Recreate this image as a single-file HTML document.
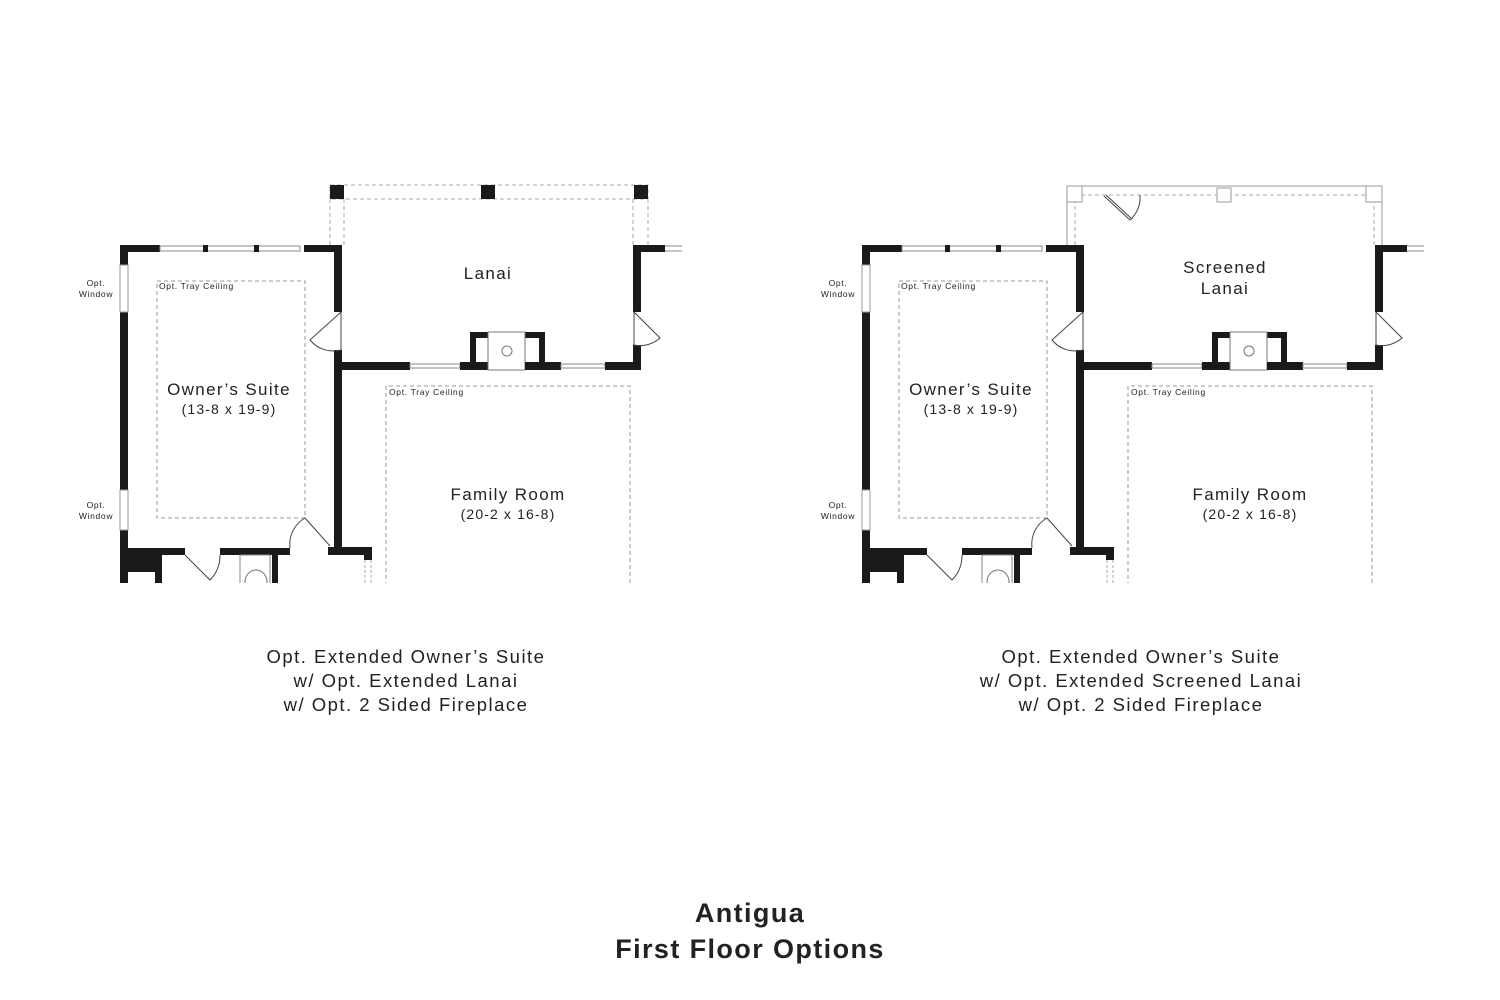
<!DOCTYPE html>
<html><head><meta charset="utf-8"><style>
html,body{margin:0;padding:0;background:#fff;}
svg{display:block;}
text{font-family:"Liberation Sans",sans-serif;fill:#222;letter-spacing:0.08em;}
</style></head><body>
<svg width="1500" height="1000" viewBox="0 0 1500 1000" xmlns="http://www.w3.org/2000/svg">
<defs>
<clipPath id="cp"><rect x="0" y="0" width="1500" height="583"/></clipPath>
<g id="plan">
  <rect x="157" y="281" width="148" height="237" fill="none" stroke="#999" stroke-width="1" stroke-dasharray="4,3"/>
  <path d="M386 600 L386 386 L630 386 L630 600" fill="none" stroke="#999" stroke-width="1" stroke-dasharray="4,3"/>
  <rect x="120" y="245" width="8" height="20" fill="#1a1a1a"/>
  <rect x="120" y="312" width="8" height="178" fill="#1a1a1a"/>
  <rect x="120" y="530" width="8" height="60" fill="#1a1a1a"/>
  <rect x="120" y="265" width="8" height="47" fill="#fff" stroke="#999" stroke-width="1"/>
  <rect x="120" y="490" width="8" height="40" fill="#fff" stroke="#999" stroke-width="1"/>
  <rect x="120" y="245" width="40" height="7" fill="#1a1a1a"/>
  <rect x="160" y="246" width="140" height="5" fill="#fff" stroke="#888" stroke-width="1"/>
  <rect x="203" y="245" width="5" height="7" fill="#1a1a1a"/>
  <rect x="254" y="245" width="5" height="7" fill="#1a1a1a"/>
  <rect x="304" y="245" width="38" height="7" fill="#1a1a1a"/>
  <rect x="334" y="245" width="8" height="67" fill="#1a1a1a"/>
  <rect x="334" y="350" width="8" height="200" fill="#1a1a1a"/>
  <path d="M341 312 L341 350 M341 312 L310 340 A30 30 0 0 0 341 350" fill="none" stroke="#444" stroke-width="1"/>
  <rect x="334" y="362" width="76" height="8" fill="#1a1a1a"/>
  <rect x="410" y="364" width="50" height="4" fill="#fff" stroke="#888"/>
  <rect x="460" y="362" width="40" height="8" fill="#1a1a1a"/>
  <rect x="470" y="332" width="75" height="6" fill="#1a1a1a"/>
  <rect x="470" y="332" width="6" height="38" fill="#1a1a1a"/>
  <rect x="539" y="332" width="6" height="38" fill="#1a1a1a"/>
  <rect x="488" y="332" width="37" height="38" fill="#fff" stroke="#777" stroke-width="1"/>
  <circle cx="507" cy="351" r="5" fill="none" stroke="#777"/>
  <rect x="525" y="362" width="36" height="8" fill="#1a1a1a"/>
  <rect x="561" y="364" width="44" height="4" fill="#fff" stroke="#888"/>
  <rect x="605" y="362" width="36" height="8" fill="#1a1a1a"/>
  <rect x="633" y="345" width="8" height="25" fill="#1a1a1a"/>
  <rect x="633" y="245" width="8" height="67" fill="#1a1a1a"/>
  <rect x="633" y="245" width="32" height="7" fill="#1a1a1a"/>
  <path d="M665 246 L682 246 M665 251 L682 251" stroke="#888"/>
  <path d="M634 312 L634 345 M634 312 L660 338 A30 30 0 0 1 634 345" fill="none" stroke="#444" stroke-width="1"/>
  <rect x="120" y="548" width="42" height="24" fill="#1a1a1a"/>
  <rect x="120" y="548" width="65" height="7" fill="#1a1a1a"/>
  <rect x="155" y="555" width="7" height="35" fill="#1a1a1a"/>
  <rect x="220" y="548" width="70" height="7" fill="#1a1a1a"/>
  <rect x="272" y="555" width="6" height="35" fill="#1a1a1a"/>
  <path d="M185 555 L210 580 A35 35 0 0 0 220 555" fill="none" stroke="#444"/>
  <rect x="240" y="555" width="30" height="40" fill="none" stroke="#888"/>
  <ellipse cx="256" cy="582" rx="11" ry="12" fill="none" stroke="#777"/>
  <rect x="328" y="547" width="44" height="8" fill="#1a1a1a"/>
  <rect x="364" y="547" width="8" height="13" fill="#1a1a1a"/>
  <path d="M365 560 L365 590 M371 560 L371 590" stroke="#aaa" stroke-dasharray="3,2"/>
  <path d="M305 518 L330 546 M305 518 A30 30 0 0 0 290 548" fill="none" stroke="#444"/>
  <text x="96" y="286" font-size="8.5" text-anchor="middle">Opt.</text>
  <text x="96" y="297" font-size="8.5" text-anchor="middle">Window</text>
  <text x="96" y="508" font-size="8.5" text-anchor="middle">Opt.</text>
  <text x="96" y="519" font-size="8.5" text-anchor="middle">Window</text>
  <text x="159" y="289" font-size="8.5">Opt. Tray Ceiling</text>
  <text x="389" y="395" font-size="8.5">Opt. Tray Ceiling</text>
  <text x="229" y="395" font-size="17" text-anchor="middle">Owner’s Suite</text>
  <text x="229" y="414" font-size="14" text-anchor="middle">(13-8 x 19-9)</text>
  <text x="508" y="500" font-size="17" text-anchor="middle">Family Room</text>
  <text x="508" y="519" font-size="14" text-anchor="middle">(20-2 x 16-8)</text>
</g>
</defs>
<g clip-path="url(#cp)">
<use href="#plan"/>
<g transform="translate(742,0)"><use href="#plan"/></g>
</g>
<rect x="330" y="185" width="318" height="14" fill="none" stroke="#aaa" stroke-dasharray="4,3"/>
<path d="M330 199 L330 245 M344 199 L344 245 M633 199 L633 245 M648 199 L648 245" stroke="#aaa" stroke-dasharray="4,3"/>
<rect x="330" y="185" width="14" height="14" fill="#1a1a1a"/>
<rect x="481" y="185" width="14" height="14" fill="#1a1a1a"/>
<rect x="634" y="185" width="14" height="14" fill="#1a1a1a"/>
<text x="488" y="279" font-size="17" text-anchor="middle">Lanai</text>
<path d="M1067 186 L1382 186 L1382 245 M1067 186 L1067 245" fill="none" stroke="#999"/>
<path d="M1067 195 L1382 195 M1075 199 L1075 245 M1374 199 L1374 245" fill="none" stroke="#aaa" stroke-dasharray="4,3"/>
<rect x="1067" y="186" width="15" height="16" fill="#fff" stroke="#999"/>
<rect x="1217" y="188" width="14" height="14" fill="#fff" stroke="#999"/>
<rect x="1366" y="186" width="16" height="16" fill="#fff" stroke="#999"/>
<path d="M1104 196 L1130 220 M1106 195 L1132 219 M1130 220 A30 30 0 0 0 1140 195" fill="none" stroke="#444"/>
<text x="1225" y="273" font-size="17" text-anchor="middle">Screened</text>
<text x="1225" y="294" font-size="17" text-anchor="middle">Lanai</text>
<g font-size="18.5" text-anchor="middle" style="letter-spacing:1.3px">
<text x="406" y="663">Opt. Extended Owner’s Suite</text>
<text x="406" y="687">w/ Opt. Extended Lanai</text>
<text x="406" y="711">w/ Opt. 2 Sided Fireplace</text>
<text x="1141" y="663">Opt. Extended Owner’s Suite</text>
<text x="1141" y="687">w/ Opt. Extended Screened Lanai</text>
<text x="1141" y="711">w/ Opt. 2 Sided Fireplace</text>
</g>
<text x="750" y="922" font-size="27" font-weight="bold" text-anchor="middle" style="letter-spacing:1.4px">Antigua</text>
<text x="750" y="958" font-size="27" font-weight="bold" text-anchor="middle" style="letter-spacing:1.4px">First Floor Options</text>
</svg>
</body></html>
